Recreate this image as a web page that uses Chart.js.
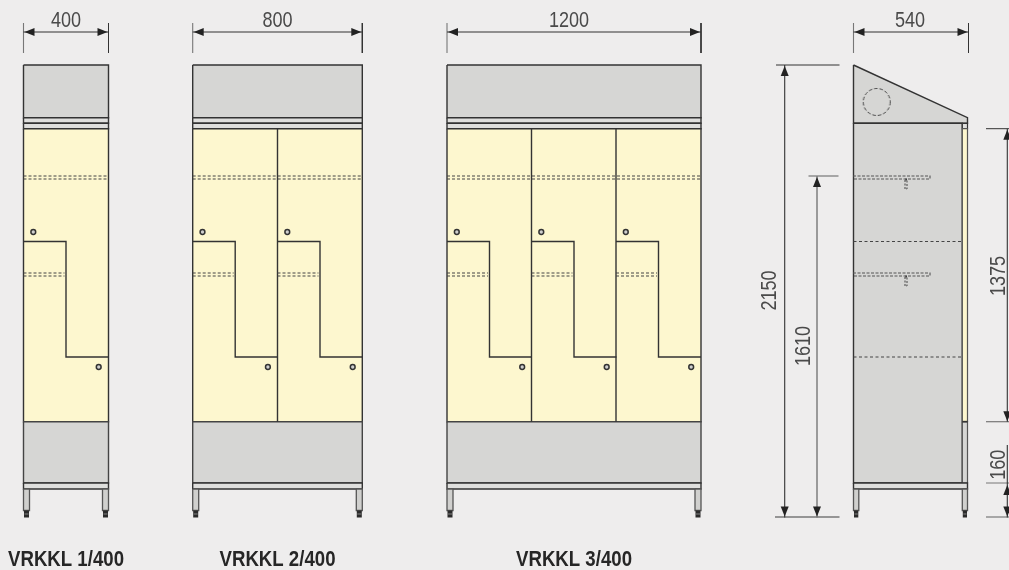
<!DOCTYPE html>
<html>
<head>
<meta charset="utf-8">
<style>
  html, body { margin: 0; padding: 0; background: #eeeded; }
  canvas { display: block; }
</style>
<script src="https://cdn.jsdelivr.net/npm/chart.js@4/dist/chart.umd.min.js"></script>
</head>
<body>
<canvas id="plan" width="1009" height="570"></canvas>
<script>
// front views (drawing units, same size as the picture)
const cabinetLefts = [23.5, 192.7, 447];
const cabinetRights = [108.5, 362.3, 701];
const doorLefts = [23.5, 192.7, 277.5, 447, 531.5, 616];
const dividerXs = [277.5, 531.5, 616];
const widthLabels = ["400", "800", "1200"];
const modelLabels = ["VRKKL 1/400", "VRKKL 2/400", "VRKKL 3/400"];
const modelLefts = [8, 219.5, 516];
const widthLabelXs = [66, 277.5, 569];

// heights shared by all views
const topY = 65, roofY = 117.7, railY = 123.3, doorTopY = 128.7;
const shelfYs = [176, 179];
const lowerShelfYs = [273, 276];
const stepTopY = 241.5, stepBottomY = 357;
const doorBottomY = 421.7, plinthY = 483, frameY = 489, legY = 510.5, floorY = 517.5;

// side view
const sideLeft = 853.5, sideInner = 962.3, sideRight = 967.5;
const sideShelfRight = 930;

const INK = "#333333", GREY = "#d6d6d4", LIGHT = "#dfdfdd", CREAM = "#fdf7cf", SOFT = "#777777";
const OUTLINE = 1.4;

const datasets = [];

function addShape(points, fill, stroke, width) {
  datasets.push({
    data: points,
    showLine: true,
    pointRadius: 0,
    borderWidth: stroke ? (width || OUTLINE) : 0,
    borderColor: stroke || "transparent",
    backgroundColor: fill,
    fill: "shape",
    tension: 0,
    clip: false,
    order: -datasets.length,
  });
}

function addLine(points, color, width, dash) {
  datasets.push({
    data: points,
    showLine: true,
    pointRadius: 0,
    borderWidth: width || OUTLINE,
    borderColor: color || INK,
    borderDash: dash || [],
    fill: false,
    tension: 0,
    clip: false,
    order: -datasets.length,
  });
}

function rect(x1, y1, x2, y2, fill, stroke, width) {
  addShape([{x:x1,y:y1},{x:x2,y:y1},{x:x2,y:y2},{x:x1,y:y2},{x:x1,y:y1}], fill, stroke, width);
}

function seg(x1, y1, x2, y2, color, width, dash) {
  addLine([{x:x1,y:y1},{x:x2,y:y2}], color, width, dash);
}

// arrowheads, tip on the given point
function arrowRight(x, y) { addShape([{x:x,y:y},{x:x-10,y:y-4},{x:x-10,y:y+4},{x:x,y:y}], "#222222"); }
function arrowLeft(x, y) { addShape([{x:x,y:y},{x:x+10,y:y-4},{x:x+10,y:y+4},{x:x,y:y}], "#222222"); }
function arrowUp(x, y) { addShape([{x:x,y:y},{x:x-4,y:y+10},{x:x+4,y:y+10},{x:x,y:y}], "#222222"); }
function arrowDown(x, y) { addShape([{x:x,y:y},{x:x-4,y:y-10},{x:x+4,y:y-10},{x:x,y:y}], "#222222"); }

function widthDim(x1, x2) {
  seg(x1, 23, x1, 53, SOFT, 1.1);
  seg(x2, 23, x2, 53, INK, 1);
  seg(x1, 32, x2, 32, INK, 1.1);
  arrowLeft(x1 + 1, 32);
  arrowRight(x2 - 1, 32);
}

function legs(x1, x2) {
  rect(x1, frameY, x2, legY, "#d0d0ce", "#555555", 1.3);
  rect(x1 + 0.5, legY, x2 - 0.5, floorY, "#2b2b2b");
  seg(x1 + 1, 514, x2 - 1, 514, "#999999", 0.8);
}

// front cabinets
cabinetLefts.forEach((left, i) => {
  const right = cabinetRights[i];
  widthDim(left, right);
  rect(left, topY, right, roofY, GREY, INK);
  rect(left, roofY, right, railY, LIGHT, INK);
  rect(left, railY, right, doorTopY, LIGHT, INK);
  rect(left, doorTopY, right, doorBottomY, CREAM, INK);
  rect(left, doorBottomY, right, plinthY, GREY, "#444444");
  rect(left, plinthY, right, frameY, LIGHT, INK);
  shelfYs.forEach(y => seg(left, y, right, y, "#444444", 1.1, [3, 2]));
  legs(left, left + 6);
  legs(right - 6, right);
});

dividerXs.forEach(x => seg(x, doorTopY, x, doorBottomY, INK, OUTLINE));

doorLefts.forEach(left => {
  addLine([{x:left,y:stepTopY},{x:left+42.5,y:stepTopY},{x:left+42.5,y:stepBottomY},{x:left+85,y:stepBottomY}], INK, OUTLINE);
  lowerShelfYs.forEach(y => seg(left, y, left + 41, y, "#444444", 1.1, [3, 2]));
});

// side view
widthDim(sideLeft, sideRight + 1);
addShape([{x:sideLeft,y:topY},{x:sideRight,y:roofY},{x:sideRight,y:railY},{x:sideLeft,y:railY},{x:sideLeft,y:topY}], GREY, INK, 1.4);
rect(sideLeft, railY, sideInner, plinthY, GREY, INK, 1.4);
rect(sideInner, railY, sideRight, doorTopY, LIGHT, INK, 1.2);
rect(sideInner, doorTopY, sideRight, doorBottomY, CREAM, "#555555", 1.2);
rect(sideInner, doorBottomY, sideRight, plinthY, GREY, "#555555", 1.2);
rect(sideLeft, plinthY, sideRight, frameY, LIGHT, INK, OUTLINE);
seg(sideInner, doorBottomY, sideRight, doorBottomY, INK, 1.7);
legs(sideLeft, sideLeft + 5.3);
legs(sideInner, sideRight);

[shelfYs, lowerShelfYs].forEach(ys => {
  addLine([{x:sideLeft-0.5,y:ys[0]},{x:sideShelfRight,y:ys[0]},{x:sideShelfRight,y:ys[1]},{x:sideLeft-0.5,y:ys[1]}], "#555555", 1.1, [3, 1.5]);
  addLine([{x:905,y:ys[1]+1},{x:905,y:ys[1]+10},{x:907,y:ys[1]+10},{x:907,y:ys[1]+1}], "#444444", 1, [2, 1.5]);
  seg(905.5, ys[1] + 0.5, 906.8, ys[1] + 0.5, "#222222", 2);
});
seg(sideLeft, stepTopY, sideInner, stepTopY, "#444444", 1, [3, 2.5]);
seg(sideLeft, stepBottomY, sideInner, stepBottomY, "#444444", 1, [3, 2.5]);

// height dimensions
seg(776, topY, 839.5, topY, INK, 1);
seg(775, floorY - 0.5, 839.5, floorY - 0.5, SOFT, 1.5);
seg(808.5, shelfYs[0], 838.5, shelfYs[0], SOFT, 1.2);
seg(784.7, topY, 784.7, floorY, INK, 1.1);
arrowUp(784.7, topY + 1);
arrowDown(784.7, floorY - 1);
seg(817, shelfYs[0], 817, floorY, SOFT, 1.4);
arrowUp(817, shelfYs[0] + 1);
arrowDown(817, floorY - 1);

seg(986, doorTopY, 1009, doorTopY, INK, 1);
seg(986, doorBottomY, 1009, doorBottomY, SOFT, 1.2);
seg(986, plinthY, 1009, plinthY, SOFT, 1);
seg(986, floorY - 0.5, 1009, floorY - 0.5, SOFT, 1.2);
seg(1007.3, doorTopY, 1007.3, doorBottomY, INK, 1.1);
arrowUp(1007.3, doorTopY + 1);
arrowDown(1007.3, doorBottomY - 0.5);
seg(1007.3, 445, 1007.3, floorY, INK, 1.1);
arrowUp(1007.3, plinthY + 2);
arrowDown(1007.3, floorY - 1);

// lock holes
const holeXs = doorLefts.map(x => x + 9.8).concat(doorLefts.map(x => x + 75.2));
const holeYs = doorLefts.map(() => 232).concat(doorLefts.map(() => 367));
datasets.push({
  data: holeXs.map((x, i) => ({ x: x, y: holeYs[i] })),
  showLine: false,
  pointRadius: 2.4,
  pointBackgroundColor: "#cfcfcf",
  pointBorderColor: "#333333",
  pointBorderWidth: 1.5,
  clip: false,
  order: -datasets.length,
});

// dashed circle on the roof panel
const ringMark = document.createElement("canvas");
ringMark.width = 30; ringMark.height = 30;
const ringCtx = ringMark.getContext("2d");
ringCtx.strokeStyle = "#444444";
ringCtx.lineWidth = 1;
ringCtx.setLineDash([3.5, 2]);
ringCtx.beginPath();
ringCtx.arc(15, 15, 13.5, 0, Math.PI * 2);
ringCtx.stroke();
datasets.push({
  data: [{ x: 876.7, y: 102 }],
  showLine: false,
  pointStyle: ringMark,
  clip: false,
  order: -datasets.length,
});

// all texts, placed through the scales
const sideWidthLabel = "540";
const heightLabels = ["2150", "1610", "1375", "160"];
const heightLabelXs = [776, 810, 1005, 1005];
const heightLabelYs = [290.5, 346, 276, 464.7];

// no narrow font here, so squeeze the regular one
function squeezed(ctx, text, x, y, angle, squeeze) {
  ctx.save();
  ctx.translate(x, y);
  ctx.rotate(angle);
  ctx.scale(squeeze, 1);
  ctx.fillText(text, 0, 0);
  ctx.restore();
}

const textPlugin = {
  id: "texts",
  afterDatasetsDraw(chart) {
    const { ctx, scales } = chart;
    const px = v => scales.x.getPixelForValue(v);
    const py = v => scales.y.getPixelForValue(v);
    ctx.save();
    ctx.fillStyle = "#4a4a4a";
    ctx.font = '22px "Liberation Sans", sans-serif';
    ctx.textAlign = "center";
    ctx.textBaseline = "alphabetic";
    widthLabels.forEach((t, i) => squeezed(ctx, t, px(widthLabelXs[i]), py(27.3), 0, 0.82));
    squeezed(ctx, sideWidthLabel, px(910), py(27.3), 0, 0.82);
    heightLabels.forEach((t, i) => squeezed(ctx, t, px(heightLabelXs[i]), py(heightLabelYs[i]), -Math.PI / 2, 0.82));
    ctx.fillStyle = "#262626";
    ctx.font = 'bold 22px "Liberation Sans", sans-serif';
    ctx.textAlign = "left";
    modelLabels.forEach((t, i) => squeezed(ctx, t, px(modelLefts[i]), py(566), 0, 0.847));
    ctx.restore();
  },
};

new Chart(document.getElementById("plan").getContext("2d"), {
  type: "scatter",
  data: { datasets },
  options: {
    responsive: false,
    animation: false,
    layout: { padding: 0, autoPadding: false },
    plugins: { legend: { display: false }, tooltip: { enabled: false } },
    scales: {
      x: { type: "linear", display: false, min: 0, max: 1009 },
      y: { type: "linear", display: false, min: 0, max: 570, reverse: true },
    },
  },
  plugins: [textPlugin],
});
</script>
</body>
</html>
